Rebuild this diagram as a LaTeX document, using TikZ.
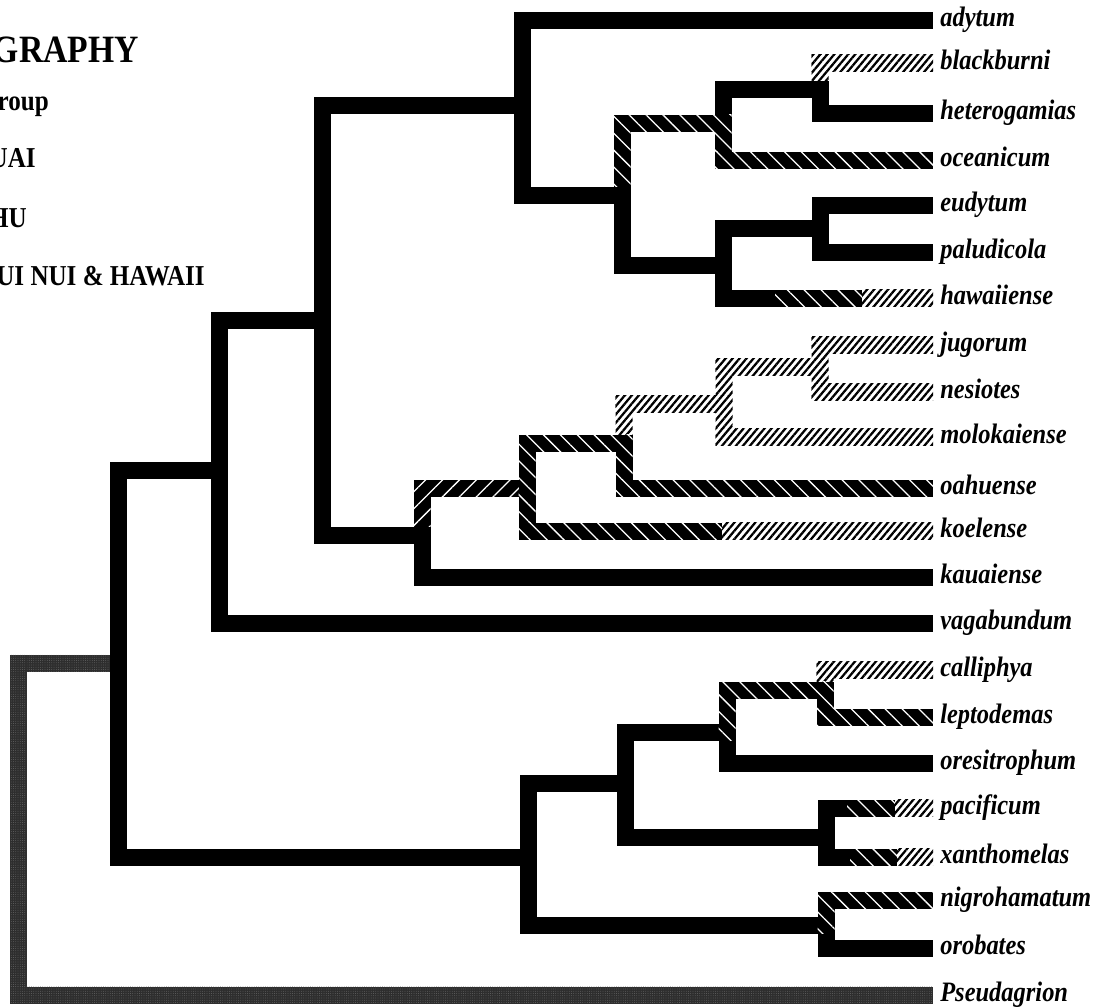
\documentclass[tikz,border=0pt]{standalone}
\usepackage{fontspec}
\setmainfont{Liberation Serif}[FakeStretch=0.87]
\usetikzlibrary{calc,patterns.meta}

% one branch piece between two points of the tree
\newcommand\twig[3][kauai]{\path[#1] ($(#2)+(-8.5,-8.5)$) rectangle ($(#3)+(8.5,8.5)$);}
% branch from an inner point out to a taxon label
\newcommand\tipbar[3][kauai]{\path[#1] ($(#2)+(-8.5,-8.5)$) rectangle ($(#3.west)+(-7,8.5)$);}

\begin{document}
\begin{tikzpicture}[x=0.025cm,y=-0.025cm,
  kauai/.style={fill=black},
  oahu/.style={preaction={fill=black},pattern={Lines[angle=-45,distance=8.5pt,line width=0.9pt]},pattern color=white},
  mixed/.style={preaction={fill=black},pattern={Lines[angle=45,distance=8.5pt,line width=0.9pt]},pattern color=white},
  maui/.style={preaction={fill=white},pattern={Lines[angle=50,distance=3.8pt,line width=1.6pt]},pattern color=black},
  outgrp/.style={preaction={fill=black!82},pattern={Dots[distance=1.6pt,radius=0.3pt]},pattern color=black!55},
  taxon/.style={anchor=west,inner sep=0pt,text height=0.5cm,text depth=0.175cm,font=\fontsize{20}{24}\selectfont\bfseries\itshape},
  legend/.style={anchor=base east,inner sep=0pt,font=\fontsize{20.5}{24}\selectfont\bfseries}]
  \useasboundingbox (0,0) rectangle (1105,1007);
  \clip (0,0) rectangle (1105,1007);
  \fill[white] (0,0) rectangle (1105,1007);

  % legend
  \node[legend,font=\fontsize{27.5}{32}\selectfont\bfseries] (title) at (139,62) {GRAPHY};
  \node[legend] (outkey) at (49,110) {roup};
  \node[legend] (kauaikey) at (36,167) {UAI};
  \node[legend] (oahukey) at (27,227) {HU};
  \node[legend] (mauikey) at (205,285) {UI NUI \& HAWAII};

  % taxa
  \foreach \t/\y in {adytum/20,blackburni/63,heterogamias/113,oceanicum/160,eudytum/205,
      paludicola/252,hawaiiense/298,jugorum/345,nesiotes/392,molokaiense/437,oahuense/488,
      koelense/531,kauaiense/577,vagabundum/623,calliphya/670,leptodemas/717,oresitrophum/763,
      pacificum/808,xanthomelas/857,nigrohamatum/900,orobates/948,Pseudagrion/995}
    \node[taxon] (\t) at (940,\y) {\t};

  % inner points: t = upper child, j = stem, b = lower child
  \coordinate (o1) at (18,663);    \coordinate (o2) at (18,995);
  \coordinate (n1t) at (118,470);  \coordinate (n1j) at (118,663);  \coordinate (n1b) at (118,857);
  \coordinate (n2t) at (219,320);  \coordinate (n2j) at (219,470);  \coordinate (n2b) at (219,623);
  \coordinate (n3t) at (322,105);  \coordinate (n3j) at (322,320);  \coordinate (n3b) at (322,535);
  \coordinate (n4t) at (522,20);   \coordinate (n4j) at (522,105);  \coordinate (n4b) at (522,195);
  \coordinate (n5t) at (622,123);  \coordinate (n5j) at (622,195);  \coordinate (n5b) at (622,265);
  \coordinate (n6t) at (723,89);   \coordinate (n6j) at (723,123);  \coordinate (n6b) at (723,160);
  \coordinate (n7t) at (820,63);   \coordinate (n7j) at (820,89);   \coordinate (n7b) at (820,113);
  \coordinate (n8t) at (723,228);  \coordinate (n8j) at (723,265);  \coordinate (n8b) at (723,298);
  \coordinate (n9t) at (820,205);  \coordinate (n9j) at (820,228);  \coordinate (n9b) at (820,252);
  \coordinate (n10t) at (422,488); \coordinate (n10j) at (422,535); \coordinate (n10b) at (422,577);
  \coordinate (n11t) at (527,443); \coordinate (n11j) at (527,488); \coordinate (n11b) at (527,531);
  \coordinate (n12t) at (624,404); \coordinate (n12j) at (624,443); \coordinate (n12b) at (624,488);
  \coordinate (n13t) at (724,367); \coordinate (n13j) at (724,404); \coordinate (n13b) at (724,437);
  \coordinate (n14t) at (820,345); \coordinate (n14j) at (820,367); \coordinate (n14b) at (820,392);
  \coordinate (n15t) at (528,783); \coordinate (n15j) at (528,857); \coordinate (n15b) at (528,925);
  \coordinate (n16t) at (625,732); \coordinate (n16j) at (625,783); \coordinate (n16b) at (625,837);
  \coordinate (n17t) at (727,690); \coordinate (n17j) at (727,732); \coordinate (n17b) at (727,763);
  \coordinate (n18t) at (825,670); \coordinate (n18j) at (825,690); \coordinate (n18b) at (825,717);
  \coordinate (n19t) at (826,808); \coordinate (n19j) at (826,837); \coordinate (n19b) at (826,857);
  \coordinate (n20t) at (826,900); \coordinate (n20j) at (826,925); \coordinate (n20b) at (826,948);

  % outgroup
  \twig[outgrp]{o1}{n1j}
  \twig[outgrp]{o1}{o2}
  \tipbar[outgrp]{o2}{Pseudagrion}

  % backbone
  \twig{n1t}{n1b}
  \twig{n1t}{n2j}
  \twig{n2t}{n2b}
  \tipbar{n2b}{vagabundum}
  \twig{n2t}{n3j}
  \twig{n3t}{n3b}
  \twig{n3t}{n4j}

  % adytum clade
  \twig{n4t}{n4b}
  \tipbar{n4t}{adytum}
  \twig[oahu]{n5t}{n5j}
  \twig{n5j}{n5b}
  \twig{n4b}{n5j}
  \twig{n6t}{n6j}
  \twig[oahu]{n6j}{n6b}
  \twig[oahu]{n5t}{n6j}
  \tipbar[oahu]{n6b}{oceanicum}
  \twig[maui]{n7t}{n7j}
  \twig{n7j}{n7b}
  \twig{n6t}{n7j}
  \tipbar[maui]{n7t}{blackburni}
  \tipbar{n7b}{heterogamias}
  \twig{n5b}{n8j}
  \twig{n8t}{n8b}
  \twig{n8t}{n9j}
  \twig{n9t}{n9b}
  \tipbar{n9t}{eudytum}
  \tipbar{n9b}{paludicola}
  \tipbar{n8b}{hawaiiense}
  \path[oahu] (775,289.5) rectangle (862,306.5);
  \path[maui] (862,289.5) rectangle (933,306.5);

  % kauaiense clade
  \twig[mixed]{n10t}{n10j}
  \twig{n10j}{n10b}
  \twig{n3b}{n10j}
  \tipbar{n10b}{kauaiense}
  \twig[mixed]{n10t}{n11j}
  \twig[oahu]{n11t}{n11b}
  \tipbar[oahu]{n11b}{koelense}
  \path[maui] (722,522.5) rectangle (933,539.5);
  \twig[maui]{n12t}{n12j}
  \twig[oahu]{n12j}{n12b}
  \twig[oahu]{n11t}{n12j}
  \tipbar[oahu]{n12b}{oahuense}
  \twig[maui]{n13t}{n13b}
  \twig[maui]{n12t}{n13j}
  \tipbar[maui]{n13b}{molokaiense}
  \twig[maui]{n14t}{n14b}
  \twig[maui]{n13t}{n14j}
  \tipbar[maui]{n14t}{jugorum}
  \tipbar[maui]{n14b}{nesiotes}

  % lower clade
  \twig{n1b}{n15j}
  \twig{n15t}{n15b}
  \twig{n15t}{n16j}
  \twig{n16t}{n16b}
  \twig{n16t}{n17j}
  \twig{n17j}{n17b}
  \twig[oahu]{n17t}{n17j}
  \tipbar{n17b}{oresitrophum}
  \twig[maui]{n18t}{n18j}
  \twig[oahu]{n17t}{n18j}
  \twig[oahu]{n18j}{n18b}
  \tipbar[maui]{n18t}{calliphya}
  \tipbar[oahu]{n18b}{leptodemas}
  \twig{n16b}{n19j}
  \twig{n19t}{n19b}
  \tipbar{n19t}{pacificum}
  \tipbar{n19b}{xanthomelas}
  \path[oahu] (847,799.5) rectangle (895,816.5);
  \path[maui] (895,799.5) rectangle (933,816.5);
  \path[oahu] (850,848.5) rectangle (897,865.5);
  \path[maui] (897,848.5) rectangle (933,865.5);
  \twig{n15b}{n20j}
  \twig{n20j}{n20b}
  \twig[oahu]{n20t}{n20j}
  \tipbar[oahu]{n20t}{nigrohamatum}
  \tipbar{n20b}{orobates}
\end{tikzpicture}
\end{document}
